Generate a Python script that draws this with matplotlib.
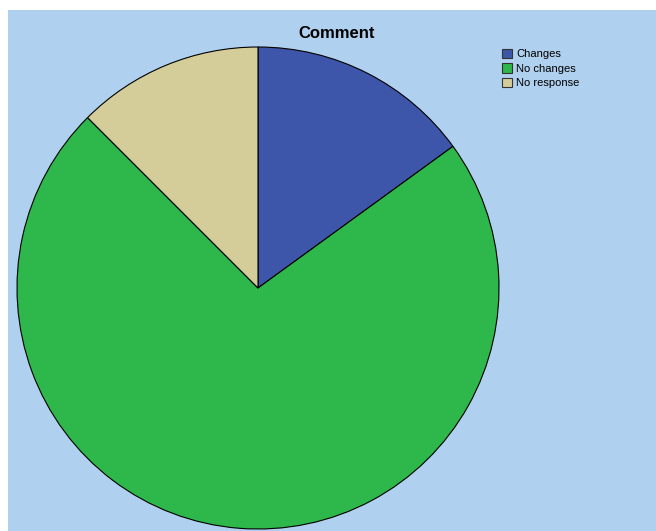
import matplotlib.pyplot as plt
from matplotlib.patches import Rectangle, Patch

labels = ['Changes', 'No changes', 'No response']
counts = [6, 29, 5]
colors = ['#3d56aa', '#2eb74a', '#d4cd9a']
bg = '#afd0ee'

W, H = 656, 531
fig = plt.figure(figsize=(W / 100, H / 100), dpi=100)
fig.patch.set_facecolor('white')
fig.patches.append(Rectangle((8 / W, 0), 648 / W, 521 / H, transform=fig.transFigure,
                             facecolor=bg, edgecolor='none', zorder=-5))

# pie axes: centre (258, 288), radius 241 px
r = 241
ax = fig.add_axes([(258 - r) / W, (H - 288 - r) / H, 2 * r / W, 2 * r / H])
ax.pie(counts, colors=colors, startangle=90, counterclock=False, radius=1,
       wedgeprops=dict(edgecolor='black', linewidth=0.8))
ax.set_xlim(-1, 1)
ax.set_ylim(-1, 1)
ax.axis('off')

fig.text(337 / W, 1 - 33 / H, 'Comment', ha='center', va='center',
         fontsize=12, fontweight='bold', family='Liberation Sans')

handles = [Patch(facecolor=c, edgecolor='#333333', linewidth=0.8) for c in colors]
fig.legend(handles, labels, loc='upper left', bbox_to_anchor=(502 / W, 1 - 49 / H),
           frameon=False, prop={'family': 'Liberation Sans', 'size': 8},
           handlelength=0.9, handleheight=0.9,
           handletextpad=0.35, labelspacing=0.35, borderaxespad=0, borderpad=0)

fig.savefig('out.png', dpi=100)
